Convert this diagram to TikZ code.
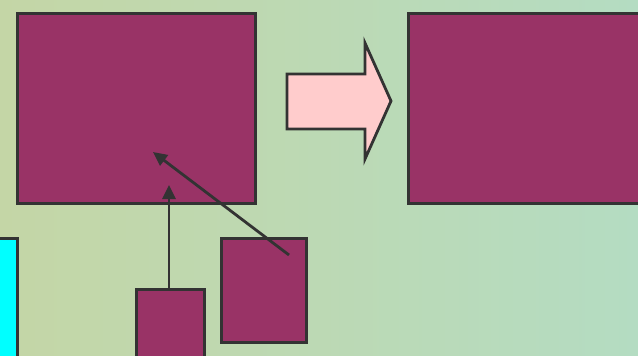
\documentclass[tikz,border=0pt]{standalone}
\usetikzlibrary{arrows.meta}
\definecolor{maroon}{HTML}{993366}
\definecolor{edge}{HTML}{333333}
\definecolor{pinkfill}{HTML}{FFCCCC}
\definecolor{aqua}{RGB}{0,255,255}
\definecolor{bgA}{HTML}{C4D6A6}
\definecolor{bgB}{HTML}{B4DCC2}
\begin{document}
\begin{tikzpicture}[x=1pt,y=-1pt,
  box/.style={draw=edge,line width=2.8pt,fill=maroon,inner sep=0pt,anchor=north west},
  conn/.style={draw=edge,line width=2.8pt,-{Triangle[length=14pt,width=13pt]}}]
\useasboundingbox (0,0) rectangle (638,356);
\clip (0,0) rectangle (638,356);
\shade[left color=bgA,right color=bgB] (0,0) rectangle (638,356);
% boxes
\node[box,minimum width=238pt,minimum height=190pt] (big) at (16,12) {};
\node[box,minimum width=250pt,minimum height=190pt] (bigR) at (407,12) {};
\node[box,minimum width=68pt,minimum height=90pt] (small) at (135,288) {};
\node[box,minimum width=85pt,minimum height=104pt] (smallR) at (220,237) {};
\node[draw=edge,line width=2.8pt,fill=aqua,inner sep=0pt,anchor=north west,minimum width=40pt,minimum height=140pt] (cyanbox) at (-24,237) {};
% block arrow
\draw[edge,line width=2.8pt,fill=pinkfill,line join=miter]
  (287,74) -- (365,74) -- (365,43) -- (391,101) -- (365,159) -- (365,129) -- (287,129) -- cycle;
% connectors
\coordinate (tipA) at (153,152);
\coordinate (startA) at (289,255);
\coordinate (tipB) at (169,185);
\draw[conn] (startA) -- (tipA);
\draw[conn] (small.north -| tipB) -- (tipB);
\end{tikzpicture}
\end{document}
